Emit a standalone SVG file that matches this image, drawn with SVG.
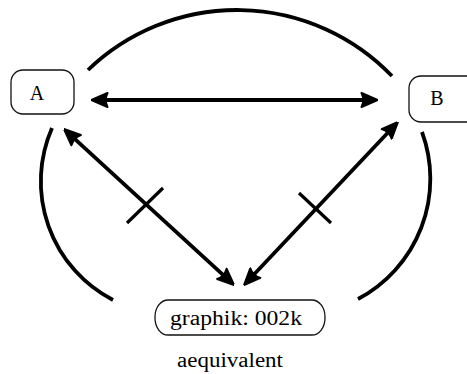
<svg xmlns="http://www.w3.org/2000/svg" width="467" height="374" viewBox="0 0 467 374">
<style>
.box{fill:#fff;stroke:#111;stroke-width:1.3}
.lbl{font-family:"Liberation Serif","Times New Roman",serif;font-size:20px;fill:#000;text-anchor:middle}
.con{fill:none;stroke:#000;stroke-linecap:butt}
</style>
<defs>
<marker id="ah" viewBox="0 0 18 16" refX="9" refY="8" markerWidth="18" markerHeight="16" markerUnits="userSpaceOnUse" orient="auto-start-reverse">
<path d="M18,8 L1.5,1 Q5,8 1.5,15 Z" fill="#000" stroke="#000" stroke-width="2" stroke-linejoin="round"/>
</marker>
</defs>
<rect width="467" height="374" fill="#fff"/>
<g id="connectors">
<path class="con" d="M88,70 A215,215 0 0 1 392,76" stroke-width="3.8"/>
<path class="con" d="M52,128 A133.5,133.5 0 0 0 113,300" stroke-width="3.8"/>
<path class="con" d="M422,132 A136,136 0 0 1 358,299" stroke-width="3.8"/>
<line class="con" x1="100" y1="100" x2="369" y2="100" stroke-width="4.2" marker-start="url(#ah)" marker-end="url(#ah)"/>
<line class="con" x1="70.6" y1="135.1" x2="227.4" y2="278.9" stroke-width="3.8" marker-start="url(#ah)" marker-end="url(#ah)"/>
<line class="con" x1="391.8" y1="128.5" x2="250.2" y2="278.5" stroke-width="3.8" marker-start="url(#ah)" marker-end="url(#ah)"/>
<line class="con" x1="127" y1="223" x2="163" y2="188" stroke-width="3.2"/>
<line class="con" x1="299" y1="193" x2="331" y2="223" stroke-width="3.2"/>
</g>
<g id="nodeA">
<rect class="box" x="11" y="70" width="63" height="44" rx="12" ry="12"/>
<text class="lbl" x="37" y="100">A</text>
</g>
<g id="nodeB">
<rect class="box" x="409" y="76" width="72" height="46" rx="12" ry="12"/>
<text class="lbl" x="437" y="105">B</text>
</g>
<g id="nodeC">
<rect class="box" x="155" y="300" width="170" height="35" rx="13" ry="17"/>
<text class="lbl" x="236" y="325" textLength="132" lengthAdjust="spacingAndGlyphs">graphik: 002k</text>
</g>
<text class="lbl" x="230" y="367" textLength="106" lengthAdjust="spacingAndGlyphs">aequivalent</text>
</svg>
